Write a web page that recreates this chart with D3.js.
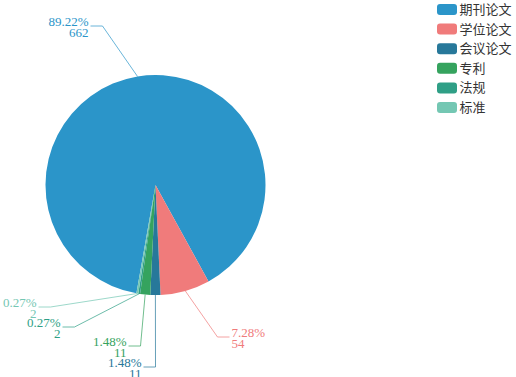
<!DOCTYPE html>
<html lang="en">
<head>
    <meta charset="UTF-8">
<script src="https://d3js.org/d3.v7.min.js"></script>
    <title>D3</title>
<style>
body{margin:0;background:#fff;}
</style>
</head>
<body>
<script>
var categories = ["期刊论文", "学位论文", "会议论文", "专利", "法规", "标准"];
var counts = [662, 54, 11, 11, 2, 2];
var colors = ["#2b95c9", "#f07b7b", "#27789a", "#35a35e", "#2f9f86", "#74c7b3"];

// label elbow offsets from pie centre (layout only)
var labelElbow = [[-53, -159], [62, 152], [0, 182], [-15, 161], [-81, 142], [-105, 122]];
var labelSide = [-1, 1, -1, -1, -1, -1];

var w = 516, h = 377;
var cx = 155.5, cy = 185, r = 110;
var total = d3.sum(counts);
var data = categories.map(function(c, i){ return {name: c, value: counts[i], color: colors[i], i: i}; });

var svg = d3.select("body").append("svg").attr("width", w).attr("height", h);

var start = 190 * Math.PI / 180;
var pie = d3.pie().sort(null).value(function(d){ return d.value; })
    .startAngle(start).endAngle(start + 2 * Math.PI);
var arc = d3.arc().innerRadius(0).outerRadius(r);
var edge = d3.arc().innerRadius(r).outerRadius(r);

var g = svg.append("g").attr("transform", "translate(" + cx + "," + cy + ")");
var arcs = pie(data);

g.selectAll("path.slice").data(arcs).enter().append("path")
    .attr("class", "slice")
    .attr("d", arc)
    .attr("fill", function(d){ return d.data.color; });

// label lines
g.selectAll("polyline").data(arcs).enter().append("polyline")
    .attr("points", function(d){
        var p0 = edge.centroid(d);
        var e = labelElbow[d.data.i];
        var s = labelSide[d.data.i];
        return [p0, e, [e[0] + s * 12, e[1]]].map(function(p){ return p.join(","); }).join(" ");
    })
    .attr("fill", "none")
    .attr("stroke", function(d){ return d.data.color; })
    .attr("stroke-opacity", 0.7)
    .attr("stroke-width", 1);

var labels = g.selectAll("text.lbl").data(arcs).enter().append("text")
    .attr("class", "lbl")
    .attr("font-family", "Liberation Serif, serif")
    .attr("font-size", 13)
    .attr("fill", function(d){ return d.data.color; })
    .attr("text-anchor", function(d){ return labelSide[d.data.i] < 0 ? "end" : "start"; });

labels.append("tspan")
    .attr("x", function(d){ var e = labelElbow[d.data.i]; return e[0] + labelSide[d.data.i] * 14; })
    .attr("y", function(d){ return labelElbow[d.data.i][1]; })
    .text(function(d){ return (d.value / total * 100).toFixed(2) + "%"; });
labels.append("tspan")
    .attr("x", function(d){ var e = labelElbow[d.data.i]; return e[0] + labelSide[d.data.i] * 14; })
    .attr("y", function(d){ return labelElbow[d.data.i][1] + 11; })
    .text(function(d){ return d.value; });

// legend
var lg = svg.append("g").attr("transform", "translate(437,0)");
var item = lg.selectAll("g").data(data).enter().append("g")
    .attr("transform", function(d, i){ return "translate(0," + (9.5 + 19.6 * i) + ")"; });
item.append("rect")
    .attr("x", 0).attr("y", -5.5)
    .attr("width", 20).attr("height", 11)
    .attr("rx", 3)
    .attr("fill", function(d){ return d.color; });
item.append("text")
    .attr("x", 22.5)
    .attr("dy", "0.35em")
    .attr("font-family", "Noto Sans CJK SC, sans-serif")
    .attr("font-size", 13)
    .attr("fill", "#333")
    .text(function(d){ return d.name; });
</script>
</body>
</html>
